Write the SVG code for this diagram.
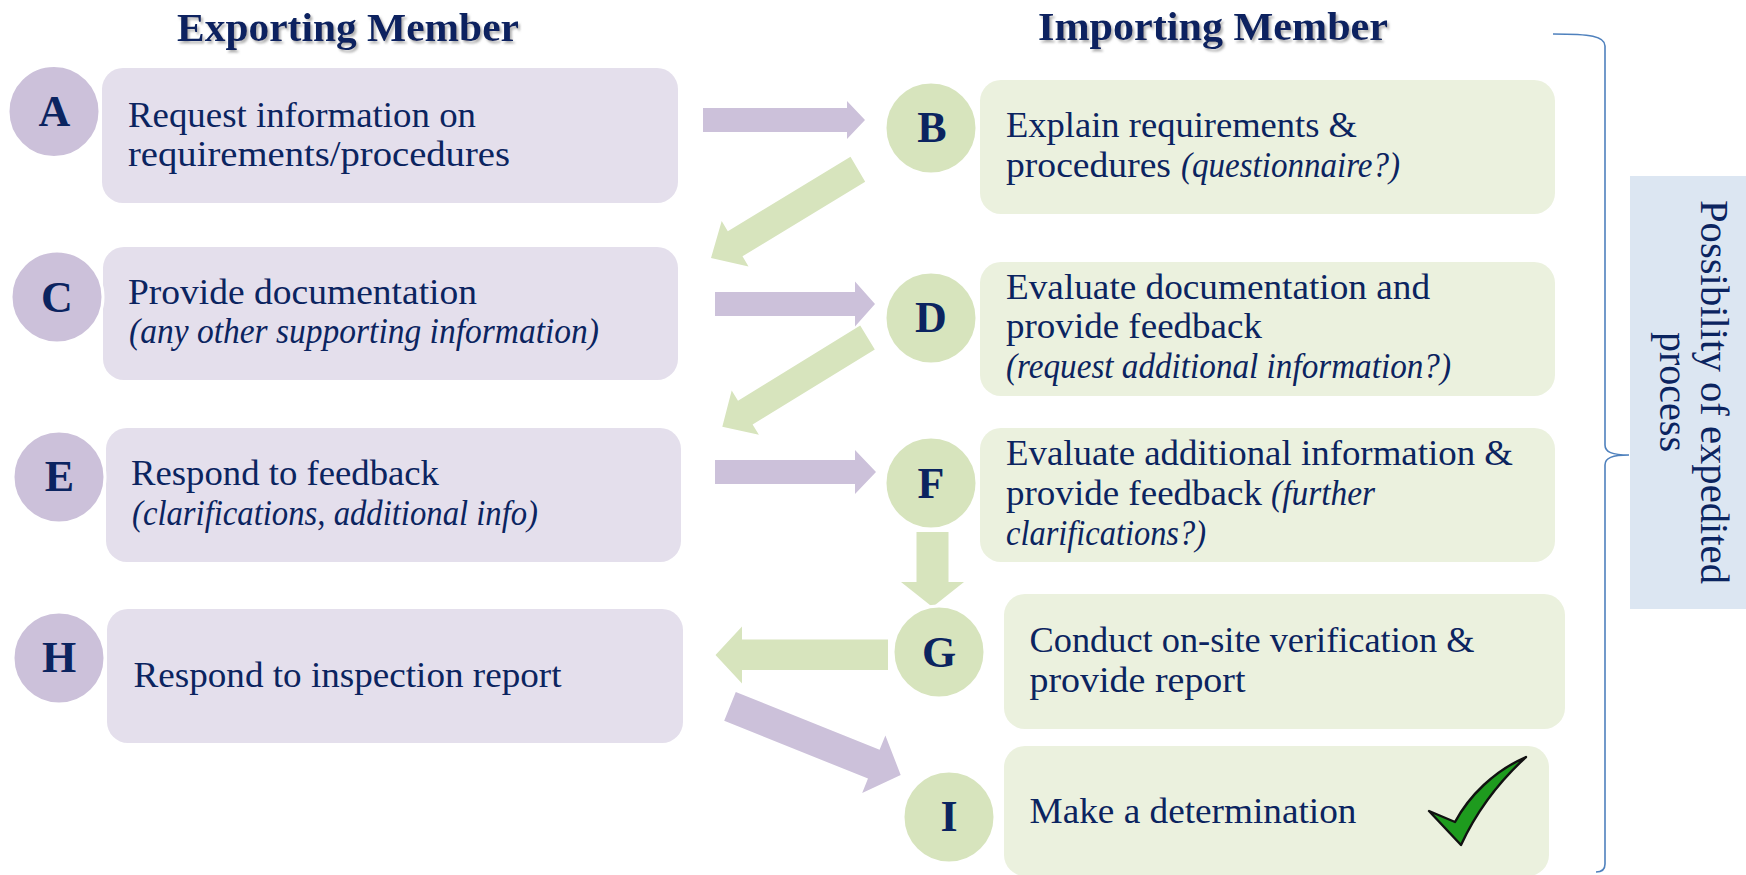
<svg xmlns="http://www.w3.org/2000/svg" width="1746" height="875" viewBox="0 0 1746 875">
<defs>
<filter id="shadow" x="-5%" y="-20%" width="110%" height="150%">
<feDropShadow dx="2" dy="2.5" stdDeviation="1.2" flood-color="#7f7f7f" flood-opacity="0.6"/>
</filter>
<style>
text{font-family:"Liberation Serif","Times New Roman",serif;fill:#0B2460;}
.title{font-size:41px;font-weight:bold;text-anchor:middle;}
.t{font-size:35px;}
.i{font-size:35px;font-style:italic;}
.let{font-size:44px;font-weight:bold;text-anchor:middle;}
.pbox{fill:#E4DFEC;}
.gbox{fill:#EBF1DE;}
.pc{fill:#CCC1DA;stroke:#ffffff;stroke-width:3;}
.gc{fill:#D7E4BD;stroke:#ffffff;stroke-width:3;}
.pa{fill:#CCC1DA;}
.ga{fill:#D7E4BD;}
.side{font-size:40px;text-anchor:middle;}
</style>
</defs>
<rect width="1746" height="875" fill="#ffffff"/>

<g id="titles" filter="url(#shadow)">
<text class="title" x="348" y="41" textLength="342" lengthAdjust="spacingAndGlyphs">Exporting Member</text>
<text class="title" x="1213" y="40" textLength="350" lengthAdjust="spacingAndGlyphs">Importing Member</text>
</g>

<g id="connectors">
<polygon class="pa" points="703,108 847,108 847,101 865,120 847,139 847,132 703,132"/>
<polygon class="ga" points="865.2,181.7 742.5,256.3 748.5,266.6 711,258 721.7,221 727.8,231.3 850.5,156.7"/>
<polygon class="pa" points="715,292 855,292 855,281.5 875,304 855,326.5 855,316 715,316"/>
<polygon class="ga" points="874.8,349.4 752.6,424.5 758.9,434.8 722.3,426.7 731.7,390.4 738,400.7 860.2,325.6"/>
<polygon class="pa" points="715,460 855,460 855,450 876,472 855,494 855,484 715,484"/>
<polygon class="ga" points="916.5,532 948.5,532 948.5,582 964,582 932.5,607 901,582 916.5,582"/>
<polygon class="ga" points="888,639.5 742,639.5 742,626.5 715.5,655 742,683.5 742,670 888,670"/>
<polygon class="pa" points="724.2,720.7 868,778.6 862.2,793 900.7,775 885.4,735.4 879.6,749.8 735.8,691.9"/>
</g>

<g id="node-A">
<rect class="pbox" x="102" y="68" width="576" height="135" rx="21"/>
<circle class="pc" cx="54" cy="111.5" r="46"/>
<text class="let" x="54.5" y="126">A</text>
<text class="t" x="128" y="127" textLength="348" lengthAdjust="spacingAndGlyphs">Request information on</text>
<text class="t" x="128" y="166" textLength="382" lengthAdjust="spacingAndGlyphs">requirements/procedures</text>
</g>

<g id="node-C">
<rect class="pbox" x="103" y="247" width="575" height="133" rx="21"/>
<circle class="pc" cx="57" cy="297" r="46"/>
<text class="let" x="57" y="312">C</text>
<text class="t" x="128" y="304" textLength="349" lengthAdjust="spacingAndGlyphs">Provide documentation</text>
<text class="i" x="129" y="343" textLength="470" lengthAdjust="spacingAndGlyphs">(any other supporting information)</text>
</g>

<g id="node-E">
<rect class="pbox" x="106" y="428" width="575" height="134" rx="21"/>
<circle class="pc" cx="59" cy="477" r="46"/>
<text class="let" x="59.5" y="491">E</text>
<text class="t" x="131" y="485" textLength="308" lengthAdjust="spacingAndGlyphs">Respond to feedback</text>
<text class="i" x="132" y="525" textLength="406" lengthAdjust="spacingAndGlyphs">(clarifications, additional info)</text>
</g>

<g id="node-H">
<rect class="pbox" x="107" y="609" width="576" height="134" rx="21"/>
<circle class="pc" cx="59" cy="658" r="46"/>
<text class="let" x="59" y="672">H</text>
<text class="t" x="133.5" y="687" textLength="428" lengthAdjust="spacingAndGlyphs">Respond to inspection report</text>
</g>

<g id="node-B">
<rect class="gbox" x="980" y="80" width="575" height="134" rx="21"/>
<circle class="gc" cx="931" cy="128" r="46"/>
<text class="let" x="932" y="142">B</text>
<text class="t" x="1006" y="137" textLength="351" lengthAdjust="spacingAndGlyphs">Explain requirements &amp;</text>
<text class="t" x="1006" y="177" textLength="165" lengthAdjust="spacingAndGlyphs">procedures</text>
<text class="i" x="1181" y="177" textLength="219" lengthAdjust="spacingAndGlyphs">(questionnaire?)</text>
</g>

<g id="node-D">
<rect class="gbox" x="980" y="262" width="575" height="134" rx="21"/>
<circle class="gc" cx="931" cy="318" r="46"/>
<text class="let" x="931" y="332">D</text>
<text class="t" x="1006" y="299" textLength="424" lengthAdjust="spacingAndGlyphs">Evaluate documentation and</text>
<text class="t" x="1006" y="338" textLength="256" lengthAdjust="spacingAndGlyphs">provide feedback</text>
<text class="i" x="1006" y="378" textLength="445" lengthAdjust="spacingAndGlyphs">(request additional information?)</text>
</g>

<g id="node-F">
<rect class="gbox" x="980" y="428" width="575" height="134" rx="21"/>
<circle class="gc" cx="931" cy="483" r="46"/>
<text class="let" x="931" y="498">F</text>
<text class="t" x="1006" y="465" textLength="507" lengthAdjust="spacingAndGlyphs">Evaluate additional information &amp;</text>
<text class="t" x="1006" y="505" textLength="256" lengthAdjust="spacingAndGlyphs">provide feedback</text>
<text class="i" x="1271" y="505" textLength="104" lengthAdjust="spacingAndGlyphs">(further</text>
<text class="i" x="1006" y="545" textLength="200" lengthAdjust="spacingAndGlyphs">clarifications?)</text>
</g>

<g id="node-G">
<rect class="gbox" x="1004" y="594" width="561" height="135" rx="21"/>
<circle class="gc" cx="939" cy="652" r="46"/>
<text class="let" x="939" y="667">G</text>
<text class="t" x="1029.5" y="652" textLength="445" lengthAdjust="spacingAndGlyphs">Conduct on-site verification &amp;</text>
<text class="t" x="1029.5" y="692" textLength="216" lengthAdjust="spacingAndGlyphs">provide report</text>
</g>

<g id="node-I">
<rect class="gbox" x="1004" y="746" width="545" height="130" rx="21"/>
<circle class="gc" cx="949" cy="817" r="46"/>
<text class="let" x="949" y="831">I</text>
<text class="t" x="1029.5" y="823" textLength="327" lengthAdjust="spacingAndGlyphs">Make a determination</text>
<path d="M1429,811 L1455,822 C1469,796 1494,771 1526,757 C1502,779 1479,806 1461,845 Z" fill="#1E9B1E" stroke="#111111" stroke-width="2.4" stroke-linejoin="round"/>
</g>

<g id="brace">
<path d="M1553,34 C1590,34 1605,36 1605,46 L1605,445 C1605,452 1612,455 1629,455 C1612,455 1605,458 1605,465 L1605,864 C1605,870 1601,872 1596,872" fill="none" stroke="#4F81BD" stroke-width="1.6"/>
</g>

<g id="expedited">
<rect x="1630" y="176" width="116" height="433" fill="#DCE6F2"/>
<text class="side" transform="translate(1701,392) rotate(90)" textLength="384" lengthAdjust="spacingAndGlyphs">Possibility of expedited</text>
<text class="side" transform="translate(1660,392) rotate(90)" textLength="120" lengthAdjust="spacingAndGlyphs">process</text>
</g>
</svg>
